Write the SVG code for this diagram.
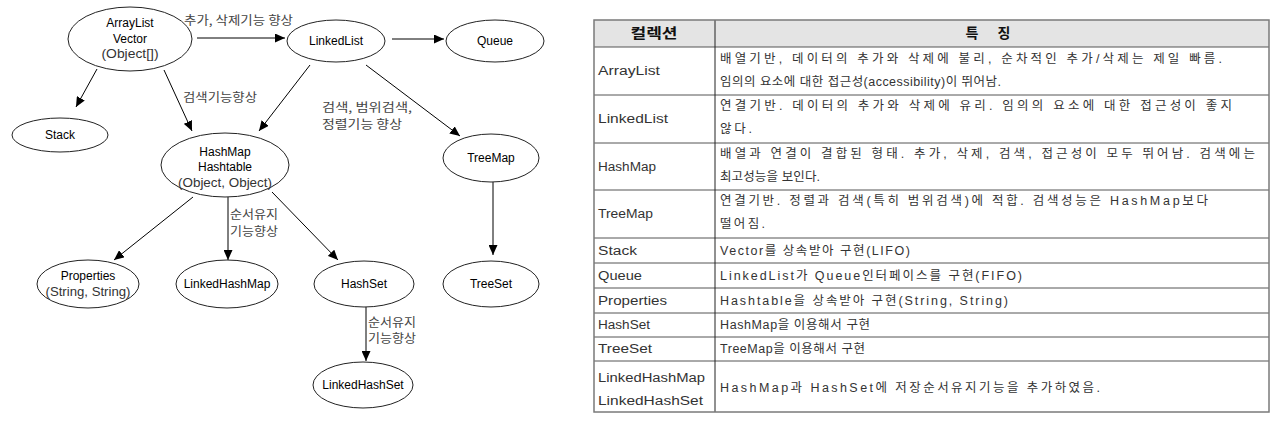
<svg xmlns="http://www.w3.org/2000/svg" width="1280" height="428" viewBox="0 0 1280 428">
<defs>
<marker id="arr" markerUnits="userSpaceOnUse" markerWidth="11" markerHeight="9" refX="10" refY="4.5" orient="auto">
<path d="M0,0 L10,4.5 L0,9 z" fill="#000"/>
</marker>
<style>
.node ellipse{fill:#fff;stroke:#222;stroke-width:1}
.nt{font-family:"Liberation Sans","Noto Sans CJK KR",sans-serif;font-size:12px;fill:#000;text-anchor:middle}
.np{font-family:"Liberation Sans","Noto Sans CJK KR",sans-serif;font-size:12px;fill:#333;text-anchor:middle}
.edge{stroke:#000;stroke-width:1;fill:none;marker-end:url(#arr)}
.el{font-family:"Noto Sans CJK KR","Liberation Sans",sans-serif;font-size:12px;fill:#444}
.tb{font-family:"Liberation Sans","Noto Sans CJK KR",sans-serif;font-size:12.5px;fill:#333}
.th{font-family:"Noto Sans CJK KR","Liberation Sans",sans-serif;font-size:14px;font-weight:bold;fill:#111;text-anchor:middle}
.rl{stroke:#555;stroke-width:1}
</style>
</defs>
<rect width="1280" height="428" fill="#fff"/>

<g id="connectors">
<line class="edge" x1="197" y1="38" x2="285" y2="38"/>
<line class="edge" x1="392" y1="39" x2="444" y2="39"/>
<line class="edge" x1="97" y1="69" x2="76" y2="107"/>
<line class="edge" x1="164" y1="70" x2="192" y2="131"/>
<line class="edge" x1="310" y1="65" x2="259" y2="131"/>
<line class="edge" x1="366" y1="65" x2="460" y2="136"/>
<line class="edge" x1="493" y1="182" x2="493" y2="255"/>
<line class="edge" x1="193" y1="197" x2="114" y2="260"/>
<line class="edge" x1="228" y1="197" x2="228" y2="260"/>
<line class="edge" x1="272" y1="192" x2="338" y2="260"/>
<line class="edge" x1="366" y1="307" x2="366" y2="361"/>
<text class="el" x="184" y="25" textLength="109" lengthAdjust="spacingAndGlyphs">추가, 삭제기능 향상</text>
<text class="el" x="183" y="102" textLength="74" lengthAdjust="spacingAndGlyphs">검색기능향상</text>
<text class="el" x="322" y="112" textLength="90" lengthAdjust="spacingAndGlyphs">검색, 범위검색,</text>
<text class="el" x="322" y="129" textLength="80" lengthAdjust="spacingAndGlyphs">정렬기능 향상</text>
<text class="el" x="230" y="219" textLength="48" lengthAdjust="spacingAndGlyphs">순서유지</text>
<text class="el" x="230" y="236" textLength="48" lengthAdjust="spacingAndGlyphs">기능향상</text>
<text class="el" x="368" y="327" textLength="48" lengthAdjust="spacingAndGlyphs">순서유지</text>
<text class="el" x="368" y="343" textLength="48" lengthAdjust="spacingAndGlyphs">기능향상</text>
</g>

<g id="node-arraylist" class="node">
<ellipse cx="130" cy="39" rx="62" ry="32"/>
<text class="nt" x="130" y="27">ArrayList</text>
<text class="nt" x="130" y="43">Vector</text>
<text class="np" x="130" y="58" textLength="57" lengthAdjust="spacingAndGlyphs">(Object[])</text>
</g>
<g id="node-linkedlist" class="node">
<ellipse cx="336" cy="41" rx="49" ry="21"/>
<text class="nt" x="336" y="45">LinkedList</text>
</g>
<g id="node-queue" class="node">
<ellipse cx="495" cy="41" rx="49" ry="21"/>
<text class="nt" x="495" y="45">Queue</text>
</g>
<g id="node-stack" class="node">
<ellipse cx="60" cy="135" rx="48" ry="17"/>
<text class="nt" x="60" y="139">Stack</text>
</g>
<g id="node-hashmap" class="node">
<ellipse cx="225" cy="165" rx="64" ry="32"/>
<text class="nt" x="225" y="156">HashMap</text>
<text class="nt" x="225" y="171">Hashtable</text>
<text class="np" x="225" y="187" textLength="94" lengthAdjust="spacingAndGlyphs">(Object, Object)</text>
</g>
<g id="node-treemap" class="node">
<ellipse cx="491" cy="158" rx="48" ry="24"/>
<text class="nt" x="491" y="162">TreeMap</text>
</g>
<g id="node-properties" class="node">
<ellipse cx="88" cy="284" rx="51" ry="24"/>
<text class="nt" x="88" y="280">Properties</text>
<text class="np" x="88" y="296" textLength="85" lengthAdjust="spacingAndGlyphs">(String, String)</text>
</g>
<g id="node-linkedhashmap" class="node">
<ellipse cx="227" cy="284" rx="51" ry="24"/>
<text class="nt" x="227" y="288">LinkedHashMap</text>
</g>
<g id="node-hashset" class="node">
<ellipse cx="364" cy="284" rx="50" ry="23"/>
<text class="nt" x="364" y="288">HashSet</text>
</g>
<g id="node-treeset" class="node">
<ellipse cx="491" cy="284" rx="48" ry="23"/>
<text class="nt" x="491" y="288">TreeSet</text>
</g>
<g id="node-linkedhashset" class="node">
<ellipse cx="363" cy="385" rx="50" ry="23"/>
<text class="nt" x="363" y="389">LinkedHashSet</text>
</g>

<g id="table">
<rect x="594" y="20" width="675" height="27" fill="#e4e4e4"/>
<line class="rl" x1="594" y1="47" x2="1269" y2="47"/>
<line class="rl" x1="594" y1="95" x2="1269" y2="95"/>
<line class="rl" x1="594" y1="143" x2="1269" y2="143"/>
<line class="rl" x1="594" y1="190" x2="1269" y2="190"/>
<line class="rl" x1="594" y1="238" x2="1269" y2="238"/>
<line class="rl" x1="594" y1="263" x2="1269" y2="263"/>
<line class="rl" x1="594" y1="288" x2="1269" y2="288"/>
<line class="rl" x1="594" y1="313" x2="1269" y2="313"/>
<line class="rl" x1="594" y1="337" x2="1269" y2="337"/>
<line class="rl" x1="594" y1="361" x2="1269" y2="361"/>
<line stroke="#222" stroke-width="1" x1="715" y1="20" x2="715" y2="412"/>
<rect x="594" y="20" width="675" height="392" fill="none" stroke="#7a7a7a" stroke-width="1.5"/>
<text class="th" x="654" y="38" textLength="47" lengthAdjust="spacingAndGlyphs">컬렉션</text>
<text class="th" x="988" y="38" textLength="45" lengthAdjust="spacing">특 징</text>

<text class="tb" x="598" y="75" textLength="62" lengthAdjust="spacingAndGlyphs">ArrayList</text>
<text class="tb" x="720" y="63" textLength="502" lengthAdjust="spacing">배열기반, 데이터의 추가와 삭제에 불리, 순차적인 추가/삭제는 제일 빠름.</text>
<text class="tb" x="720" y="86" textLength="281" lengthAdjust="spacing">임의의 요소에 대한 접근성(accessibility)이 뛰어남.</text>

<text class="tb" x="598" y="123" textLength="70" lengthAdjust="spacingAndGlyphs">LinkedList</text>
<text class="tb" x="720" y="110" textLength="512" lengthAdjust="spacing">연결기반. 데이터의 추가와 삭제에 유리. 임의의 요소에 대한 접근성이 좋지</text>
<text class="tb" x="720" y="133" textLength="32" lengthAdjust="spacing">않다.</text>

<text class="tb" x="598" y="171" textLength="58" lengthAdjust="spacingAndGlyphs">HashMap</text>
<text class="tb" x="720" y="158" textLength="535" lengthAdjust="spacing">배열과 연결이 결합된 형태. 추가, 삭제, 검색, 접근성이 모두 뛰어남. 검색에는</text>
<text class="tb" x="720" y="181" textLength="100" lengthAdjust="spacing">최고성능을 보인다.</text>

<text class="tb" x="598" y="218" textLength="55" lengthAdjust="spacingAndGlyphs">TreeMap</text>
<text class="tb" x="720" y="205" textLength="488" lengthAdjust="spacing">연결기반. 정렬과 검색(특히 범위검색)에 적합. 검색성능은 HashMap보다</text>
<text class="tb" x="720" y="228" textLength="45" lengthAdjust="spacing">떨어짐.</text>

<text class="tb" x="598" y="255" textLength="39" lengthAdjust="spacingAndGlyphs">Stack</text>
<text class="tb" x="720" y="255" textLength="190" lengthAdjust="spacing">Vector를 상속받아 구현(LIFO)</text>

<text class="tb" x="598" y="280" textLength="44" lengthAdjust="spacingAndGlyphs">Queue</text>
<text class="tb" x="720" y="280" textLength="302" lengthAdjust="spacing">LinkedList가 Queue인터페이스를 구현(FIFO)</text>

<text class="tb" x="598" y="305" textLength="69" lengthAdjust="spacingAndGlyphs">Properties</text>
<text class="tb" x="720" y="305" textLength="288" lengthAdjust="spacing">Hashtable을 상속받아 구현(String, String)</text>

<text class="tb" x="598" y="329" textLength="52" lengthAdjust="spacingAndGlyphs">HashSet</text>
<text class="tb" x="720" y="329" textLength="150" lengthAdjust="spacing">HashMap을 이용해서 구현</text>

<text class="tb" x="598" y="353" textLength="54" lengthAdjust="spacingAndGlyphs">TreeSet</text>
<text class="tb" x="720" y="353" textLength="145" lengthAdjust="spacing">TreeMap을 이용해서 구현</text>

<text class="tb" x="598" y="382" textLength="107" lengthAdjust="spacingAndGlyphs">LinkedHashMap</text>
<text class="tb" x="598" y="405" textLength="105" lengthAdjust="spacingAndGlyphs">LinkedHashSet</text>
<text class="tb" x="720" y="392" textLength="380" lengthAdjust="spacing">HashMap과 HashSet에 저장순서유지기능을 추가하였음.</text>
</g>
</svg>
